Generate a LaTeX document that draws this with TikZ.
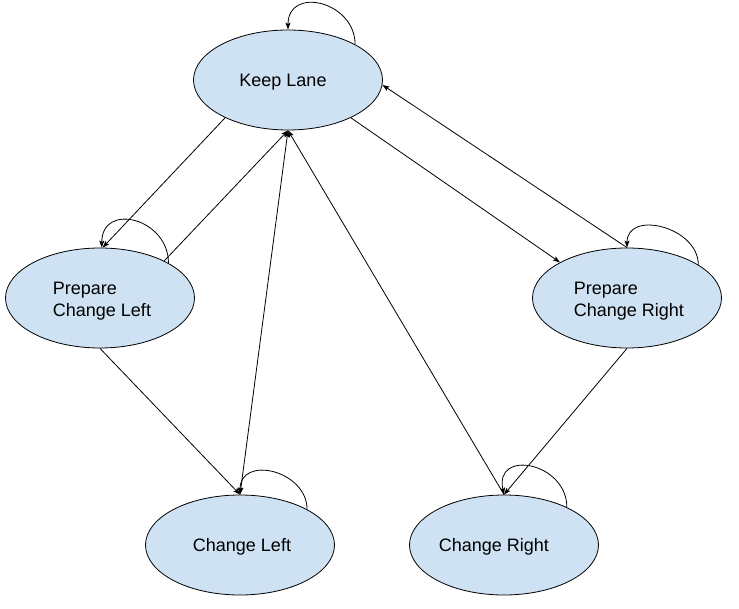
\documentclass[tikz,border=0pt]{standalone}
\usepackage{fontspec}
\setmainfont{Liberation Sans}
\usetikzlibrary{shapes.geometric,arrows.meta}
\definecolor{stfill}{HTML}{CFE2F3}
\begin{document}
\begin{tikzpicture}[x=1pt,y=1pt,
  state/.style={ellipse,draw=black,line width=0.8pt,fill=stfill,
    minimum width=189pt,minimum height=100pt,inner sep=0pt},
  txt/.style={font=\fontsize{18}{22}\selectfont,align=left,inner sep=0pt},
  conn/.style={line width=0.8pt,-{Stealth[length=7pt,width=5pt,inset=1.5pt]}},
  bconn/.style={line width=0.8pt,{Stealth[length=7pt,width=5pt,inset=1.5pt]}-{Stealth[length=7pt,width=5pt,inset=1.5pt]}}]
\useasboundingbox (0,0) rectangle (739,-609);
\node[state,label={[txt,xshift=-5pt,yshift=-2pt]center:Keep Lane}] (kl) at (288,-80) {};
\node[state,label={[txt,xshift=2pt,yshift=-3pt]center:Prepare\\Change Left}] (pcl) at (100,-298) {};
\node[state,label={[txt,xshift=2pt,yshift=-3pt]center:Prepare\\Change Right}] (pcr) at (627,-298) {};
\node[state,label={[txt,xshift=2pt,yshift=-2pt]center:Change Left}] (cl) at (240,-545) {};
\node[state,label={[txt,xshift=-10pt,yshift=-2pt]center:Change Right}] (cr) at (504,-545) {};
% self loops
\draw[conn] (kl.28)  .. controls +(0,43) and +(0,44) .. (kl.north);
\draw[conn] (pcl.27) .. controls +(0,45) and +(0,46) .. (pcl.88);
\draw[conn] (pcr.25) .. controls +(0,38) and +(0,38) .. (pcr.90);
\draw[conn] (cl.28)  .. controls +(0,39) and +(0,40) .. (cl.north);
\draw[conn] (cr.31)  .. controls +(0,45) and +(-10,46) .. (cr.north);
% transitions
\draw[conn] (kl.211) -- (pcl.87);
\draw[conn] (pcl.30) -- (kl.270);
\draw[conn] (kl.329) -- (pcr.152);
\draw[conn] (pcr.north) -- (kl.357);
\draw[conn] (pcl.south) -- (cl.north);
\draw[bconn] (kl.270) -- (cl.north);
\draw[conn] (cr.north) -- (kl.270);
\draw[conn] (pcr.south) -- (cr.north);
\end{tikzpicture}
\end{document}
